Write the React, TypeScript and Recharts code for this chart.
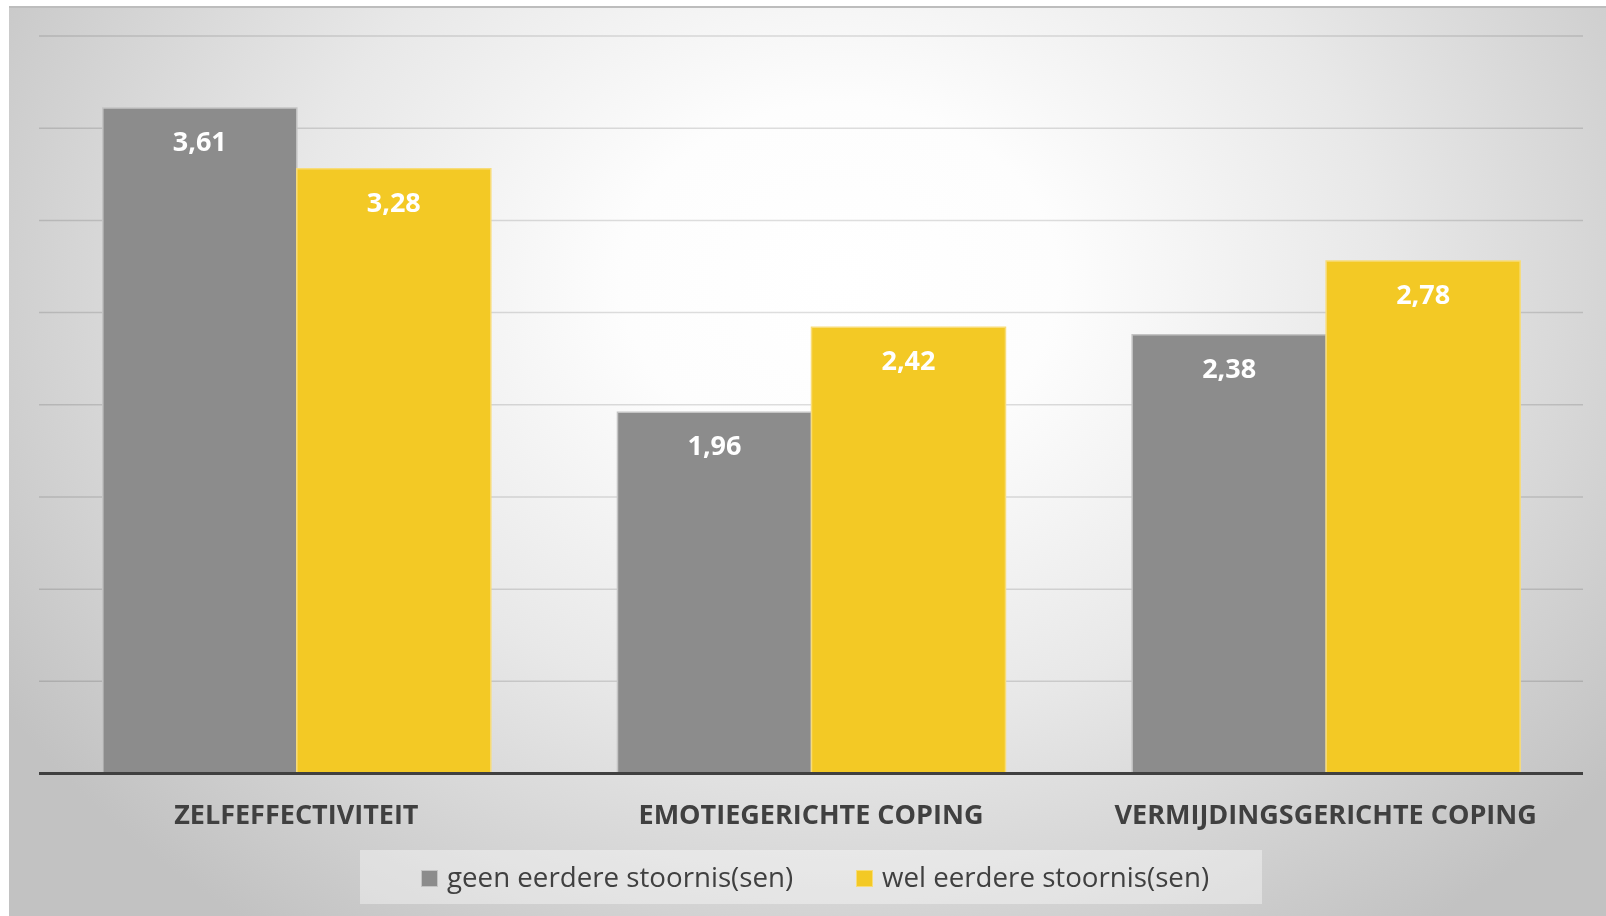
import {
  BarChart,
  Bar,
  XAxis,
  YAxis,
  CartesianGrid,
  LabelList,
  Legend,
} from "recharts";

const categories = [
  "ZELFEFFECTIVITEIT",
  "EMOTIEGERICHTE COPING",
  "VERMIJDINGSGERICHTE COPING",
];
const geenValues = [3.61, 1.96, 2.38];
const welValues = [3.28, 2.42, 2.78];
const yTicks = [0, 0.5, 1, 1.5, 2, 2.5, 3, 3.5, 4];

const SERIES = [
  { key: "geen", name: "geen eerdere stoornis(sen)", color: "#8c8c8c", border: "#c4c4c4" },
  { key: "wel", name: "wel eerdere stoornis(sen)", color: "#f3c925", border: "#f8dc78" },
];

const FONT = '"Open Sans", "DejaVu Sans", sans-serif';

const data = categories.map((name, i) => ({
  name,
  geen: geenValues[i],
  wel: welValues[i],
}));

const formatComma = (v: unknown) =>
  typeof v === "number" ? v.toFixed(2).replace(".", ",") : String(v);

function CategoryTick(props: any) {
  const { x, y, payload } = props;
  return (
    <text
      x={x}
      y={y + 50}
      textAnchor="middle"
      fill="#404040"
      fontFamily={FONT}
      fontWeight={700}
      fontSize={27}
    >
      {payload.value}
    </text>
  );
}

function LegendBox() {
  const offsets = [61, 496];
  return (
    <div
      style={{
        position: "relative",
        width: 902,
        height: 54,
        margin: "0 auto",
        background: "rgba(255,255,255,0.38)",
        fontFamily: FONT,
        fontSize: 27.7,
        color: "#404040",
      }}
    >
      {SERIES.map((s, i) => (
        <div
          key={s.key}
          style={{
            position: "absolute",
            left: offsets[i],
            top: -1,
            height: 54,
            display: "flex",
            alignItems: "center",
            whiteSpace: "nowrap",
          }}
        >
          <span
            style={{
              display: "inline-block",
              width: 17,
              height: 17,
              marginTop: 4,
              marginRight: 9,
              background: s.color,
              boxSizing: "border-box",
              border: `1px solid ${s.border}`,
            }}
          />
          <span>{s.name}</span>
        </div>
      ))}
    </div>
  );
}

export default function App() {
  return (
    <div
      style={{
        position: "fixed",
        left: 9,
        top: 6,
        width: 1597,
        height: 910,
        boxSizing: "border-box",
        borderTop: "2px solid #bdbdbd",
        background:
          "radial-gradient(ellipse 62% 88% at 52% 30%, #ffffff 0%, #fdfdfd 22%, #e8e8e8 55%, #c2c2c2 100%)",
      }}
    >
      <BarChart
        width={1597}
        height={908}
        data={data}
        margin={{ top: 28, right: 23, left: 30, bottom: 12 }}
        barCategoryGap="12.4%"
        barGap={0}
      >
        <CartesianGrid
          vertical={false}
          stroke="rgba(0,0,0,0.13)"
          strokeWidth={1.5}
        />
        <YAxis hide domain={[0, 4]} ticks={yTicks} />
        <XAxis
          dataKey="name"
          height={76.5}
          axisLine={{ stroke: "#404040", strokeWidth: 3 }}
          tickLine={false}
          tickSize={0}
          tickMargin={0}
          interval={0}
          tick={<CategoryTick />}
        />
        <Legend
          verticalAlign="bottom"
          content={() => <LegendBox />}
        />
        {SERIES.map((s) => (
          <Bar
            key={s.key}
            dataKey={s.key}
            name={s.name}
            fill={s.color}
            stroke={s.border}
            strokeWidth={1.5}
            isAnimationActive={false}
          >
            <LabelList
              dataKey={s.key}
              position="insideTop"
              offset={24}
              formatter={formatComma}
              fill="#ffffff"
              fontFamily={FONT}
              fontWeight={700}
              fontSize={27}
            />
          </Bar>
        ))}
      </BarChart>
    </div>
  );
}
